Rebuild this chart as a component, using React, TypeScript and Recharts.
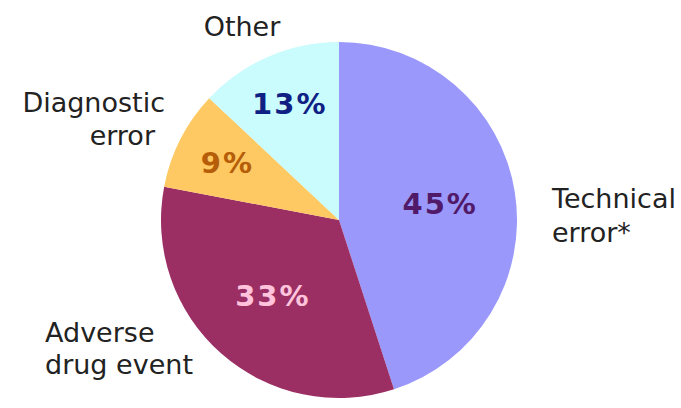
import React from 'react'
import { PieChart, Pie, Cell } from 'recharts'

// Share of cases by type (%)
const categories = ['Technical error*', 'Adverse drug event', 'Diagnostic error', 'Other']
const shares = [45, 33, 9, 13]

const sliceColors = ['#9a98fb', '#9b2f64', '#fec862', '#cafbfd']
const valueColors = ['#511a69', '#ffc4dc', '#b55d08', '#0f1f84']

// Outer label lines, offsets from the pie centre
const labelLines: { text: string; dx: number; dy: number; anchor: 'start' | 'middle' | 'end' }[][] = [
  [
    { text: 'Technical', dx: 213, dy: -12, anchor: 'start' },
    { text: 'error*', dx: 213, dy: 22, anchor: 'start' },
  ],
  [
    { text: 'Adverse', dx: -294, dy: 122, anchor: 'start' },
    { text: 'drug event', dx: -294, dy: 154, anchor: 'start' },
  ],
  [
    { text: 'Diagnostic', dx: -174, dy: -108, anchor: 'end' },
    { text: 'error', dx: -184, dy: -75, anchor: 'end' },
  ],
  [{ text: 'Other', dx: -97, dy: -184, anchor: 'middle' }],
]

const data = categories.map((name, i) => ({ name, value: shares[i] }))

const RAD = Math.PI / 180

const renderLabel = (props: any) => {
  const { cx, cy, midAngle, outerRadius, percent, index, value } = props
  const r = outerRadius * (percent < 0.2 ? 0.71 : 0.57)
  const x = cx + r * Math.cos(-midAngle * RAD)
  const y = cy + r * Math.sin(-midAngle * RAD)
  return (
    <g>
      <text
        x={x + 1}
        y={y}
        textAnchor="middle"
        dominantBaseline="central"
        fill={valueColors[index]}
        fontSize={29}
        fontWeight="bold"
        letterSpacing={2}
        fontFamily="DejaVu Sans, Verdana, sans-serif"
      >
        {value}%
      </text>
      {labelLines[index].map((l) => (
        <text
          key={l.text}
          x={cx + l.dx}
          y={cy + l.dy}
          textAnchor={l.anchor}
          fill="#222"
          fontSize={27}
          fontFamily="DejaVu Sans, Verdana, sans-serif"
        >
          {l.text}
        </text>
      ))}
    </g>
  )
}

export default function App() {
  return (
    <div style={{ position: 'absolute', left: 0, top: 0, background: '#fff' }}>
      <style>{`.recharts-pie-sectors { filter: drop-shadow(0 0 3px rgba(190, 150, 175, 0.7)); }`}</style>
      <PieChart width={681} height={408} margin={{ top: 0, right: 0, bottom: 0, left: 0 }}>
        <Pie
          data={data}
          dataKey="value"
          nameKey="name"
          cx={339}
          cy={220}
          outerRadius={178}
          startAngle={90}
          endAngle={-270}
          stroke="none"
          labelLine={false}
          label={renderLabel}
          isAnimationActive={false}
        >
          {data.map((d, i) => (
            <Cell key={d.name} fill={sliceColors[i]} />
          ))}
        </Pie>
      </PieChart>
    </div>
  )
}
